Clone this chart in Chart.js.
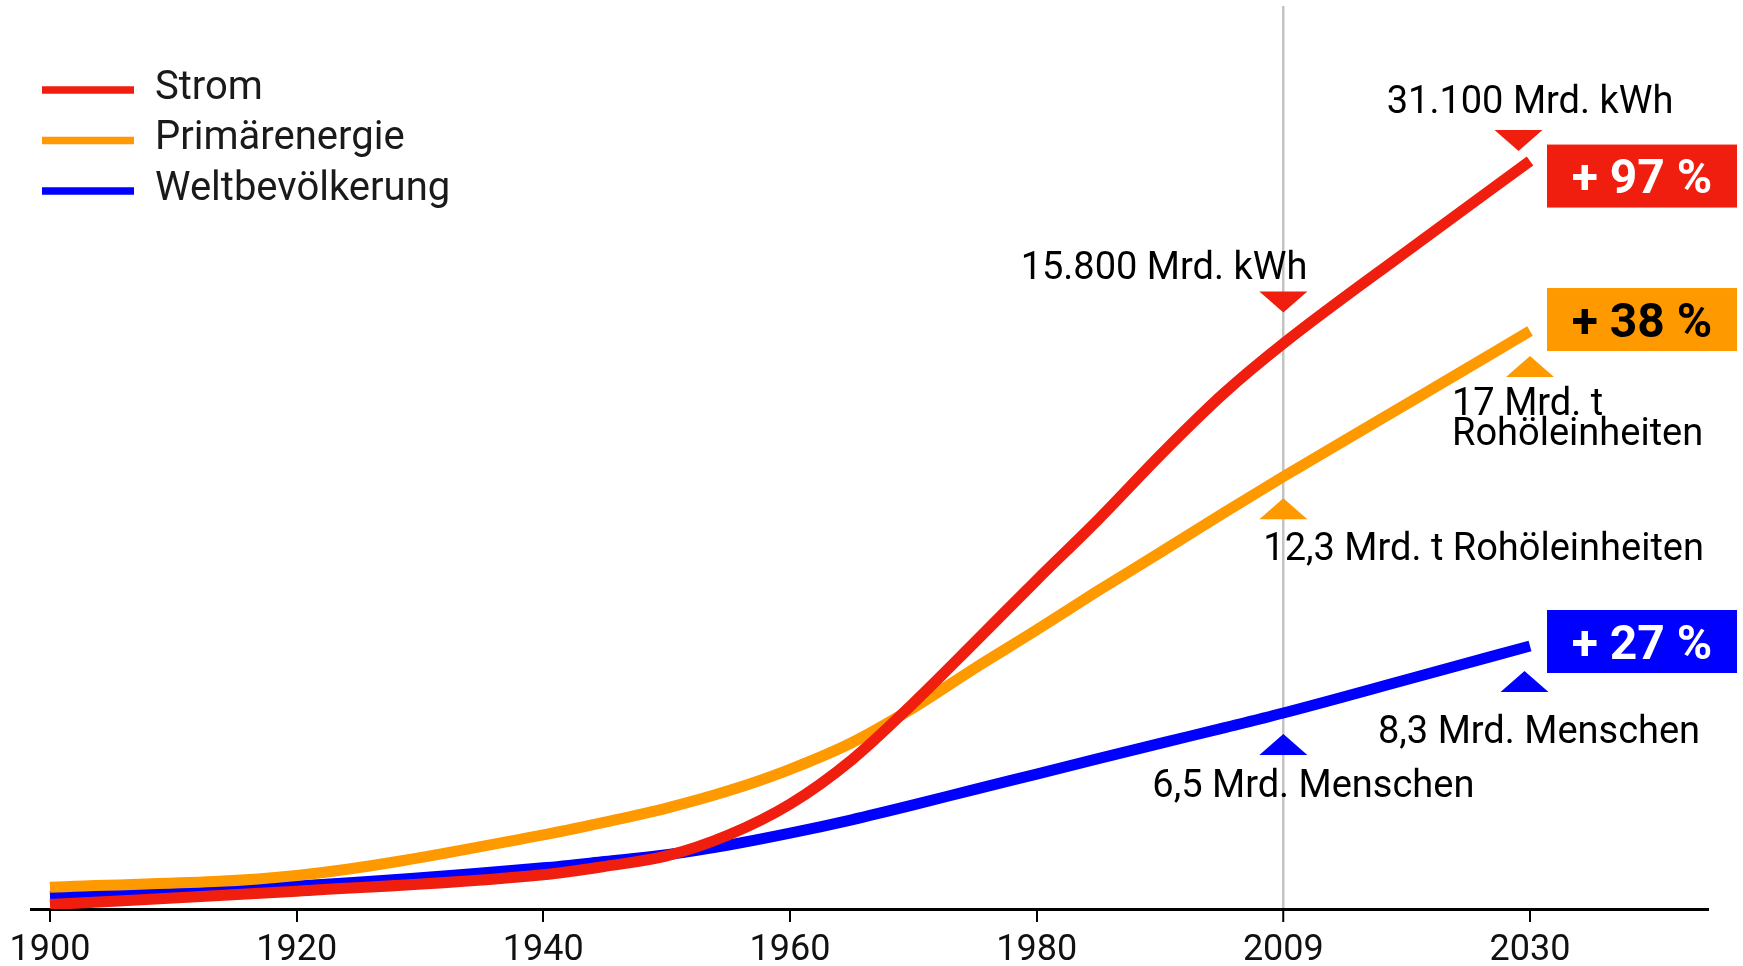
<!DOCTYPE html>
<html lang="de">
<head>
<meta charset="utf-8">
<title>Strom, Primärenergie und Weltbevölkerung 1900–2030</title>
<script src="https://cdn.jsdelivr.net/npm/chart.js@4.4.1/dist/chart.umd.min.js"></script>
<style>
  html, body { margin: 0; padding: 0; background: #fff; }
  #wrap { position: relative; width: 1743px; height: 966px; }
</style>
</head>
<body>
<div id="wrap"><canvas id="chart"></canvas></div>
<script>
// Axis tick years (evenly spaced on the axis, 2009 marks "today")
const tickYears = [1900, 1920, 1940, 1960, 1980, 2009, 2030];

// Sample years of the three series
const years = [1900, 1920, 1940, 1945, 1950, 1955, 1960, 1965, 1970, 1975, 1980, 1987, 1995, 2002, 2009, 2020, 2030];

// Stromverbrauch, Mrd. kWh
const strom = [1970, 2070, 2200, 2270, 2360, 2550, 2860, 3370, 4160, 5220, 6570, 8160, 10600, 13130, 15800, 22600, 31100];
// Primärenergieverbrauch, Mrd. t Rohöleinheiten
const primaerenergie = [4.94, 5.07, 5.55, 5.71, 5.89, 6.12, 6.42, 6.81, 7.36, 8.04, 8.75, 9.52, 10.45, 11.35, 12.3, 14.57, 17];
// Weltbevölkerung, Mrd. Menschen
const weltbevoelkerung = [1.58, 1.85, 2.34, 2.51, 2.69, 2.95, 3.27, 3.63, 4.03, 4.45, 4.86, 5.26, 5.71, 6.10, 6.5, 7.44, 8.3];

const seriesNames = ['Strom', 'Primärenergie', 'Weltbevölkerung'];
const seriesColors = ['#f01e0e', '#ff9900', '#0000ff'];

// Value callouts for 2009 and 2030, growth badges 2009 → 2030
const labels2009 = [['15.800 Mrd. kWh'], ['12,3 Mrd. t Rohöleinheiten'], ['6,5 Mrd. Menschen']];
const labels2030 = [['31.100 Mrd. kWh'], ['17 Mrd. t', 'Rohöleinheiten'], ['8,3 Mrd. Menschen']];
const growthLabels = ['+ 97 %', '+ 38 %', '+ 27 %'];

const FONT = 'Roboto, "Open Sans", "DejaVu Sans", sans-serif';

// position of a year on the evenly spaced tick axis
function yearToIndex(year) {
  for (let i = 0; i < tickYears.length - 1; i++) {
    if (year <= tickYears[i + 1]) {
      return i + (year - tickYears[i]) / (tickYears[i + 1] - tickYears[i]);
    }
  }
  return tickYears.length - 1;
}

const seriesValues = [strom, primaerenergie, weltbevoelkerung];
const axisIds = ['yStrom', 'yEnergie', 'yMenschen'];

const datasets = seriesValues.map((vals, s) => ({
  label: seriesNames[s],
  data: years.map((yr, i) => ({ x: yearToIndex(yr), y: vals[i] })),
  yAxisID: axisIds[s],
  borderColor: seriesColors[s],
  backgroundColor: seriesColors[s],
  borderWidth: 11,
  borderCapStyle: 'butt',
  borderJoinStyle: 'round',
  pointRadius: 0,
  pointHoverRadius: 0,
  cubicInterpolationMode: 'monotone',
  fill: false
}));

// callout layout: triangle pointer and value text around a data point
const callouts = [
  { s: 0, year: 2009, dir: 'down', tdx: 0,     tdy: -31,  lines: labels2009[0], align: 'right',  lx: 24,   ly: -64.5 },
  { s: 0, year: 2030, dir: 'down', tdx: -11.5, tdy: -10,  lines: labels2030[0], align: 'center', lx: 0,    ly: -48.5 },
  { s: 1, year: 2009, dir: 'up',   tdx: 0,     tdy: 21.5, lines: labels2009[1], align: 'left',   lx: -20,  ly: 83.5 },
  { s: 1, year: 2030, dir: 'up',   tdx: 0,     tdy: 25,   lines: labels2030[1], align: 'left',   lx: -78,  ly: 84 },
  { s: 2, year: 2009, dir: 'up',   tdx: 0,     tdy: 21,   lines: labels2009[2], align: 'left',   lx: -131, ly: 84 },
  { s: 2, year: 2030, dir: 'up',   tdx: -5.5,  tdy: 25,   lines: labels2030[2], align: 'left',   lx: -152, ly: 97 }
];
const badges = [
  { s: 0, dy: -16.5, text: '#ffffff' },
  { s: 1, dy: -43,   text: '#000000' },
  { s: 2, dy: -36,   text: '#ffffff' }
];

function pointPixel(chart, s, year) {
  const xs = chart.scales.x;
  const ys = chart.scales[axisIds[s]];
  const i = years.indexOf(year);
  return { x: xs.getPixelForValue(yearToIndex(year)), y: ys.getPixelForValue(seriesValues[s][i]) };
}

const overlayPlugin = {
  id: 'overlay',
  afterDatasetsDraw(chart) {
    const ctx = chart.ctx;
    ctx.save();

    // triangles and value texts
    callouts.forEach(c => {
      const p = pointPixel(chart, c.s, c.year);
      const cx = p.x + c.tdx, apex = p.y + c.tdy;
      const base = c.dir === 'down' ? apex - 21 : apex + 21;
      ctx.fillStyle = seriesColors[c.s];
      ctx.beginPath();
      ctx.moveTo(cx - 24, base);
      ctx.lineTo(cx + 24, base);
      ctx.lineTo(cx, apex);
      ctx.closePath();
      ctx.fill();

      ctx.fillStyle = '#000';
      ctx.font = '38px ' + FONT;
      ctx.textAlign = c.align;
      ctx.textBaseline = 'alphabetic';
      c.lines.forEach((t, k) => ctx.fillText(t, p.x + c.lx, p.y + c.ly + k * 30));
    });

    // growth badges at the right edge
    badges.forEach(b => {
      const p = pointPixel(chart, b.s, 2030);
      const left = p.x + 17, top = p.y + b.dy, w = 190, h = 63;
      ctx.fillStyle = seriesColors[b.s];
      ctx.fillRect(left, top, w, h);
      ctx.fillStyle = b.text;
      ctx.font = 'bold 48px ' + FONT;
      ctx.textAlign = 'center';
      ctx.textBaseline = 'alphabetic';
      const m = ctx.measureText(growthLabels[b.s]);
      const asc = m.actualBoundingBoxAscent, desc = m.actualBoundingBoxDescent;
      ctx.fillText(growthLabels[b.s], left + w / 2, top + h / 2 + (asc - desc) / 2);
    });

    // legend, top left
    chart.data.datasets.forEach((ds, i) => {
      const y = 90 + i * 50.5;
      ctx.strokeStyle = ds.borderColor;
      ctx.lineWidth = 7.5;
      ctx.lineCap = 'butt';
      ctx.beginPath();
      ctx.moveTo(42, y);
      ctx.lineTo(134, y);
      ctx.stroke();
      ctx.fillStyle = '#1a1a1a';
      ctx.font = '40px ' + FONT;
      ctx.textAlign = 'left';
      ctx.textBaseline = 'alphabetic';
      ctx.fillText(ds.label, 155, y + 8.5);
    });
    ctx.restore();
  }
};

function build() {
  new Chart(document.getElementById('chart'), {
    type: 'line',
    data: { datasets },
    plugins: [overlayPlugin],
    options: {
      responsive: true,
      maintainAspectRatio: false,
      animation: false,
      events: [],
      layout: { padding: { left: 31, right: 34, top: 6, bottom: 0 } },
      plugins: { legend: { display: false }, tooltip: { enabled: false } },
      scales: {
        x: {
          type: 'linear',
          bounds: 'data',
          min: -0.077,
          max: 6.7256,
          afterBuildTicks: scale => { scale.ticks = tickYears.map((_, i) => ({ value: i })); },
          afterFit: scale => { scale.height = 57; },
          ticks: {
            autoSkip: false,
            maxRotation: 0,
            padding: 9,
            color: '#111',
            font: { family: FONT, size: 36, lineHeight: 1.1 },
            callback: v => tickYears[v]
          },
          grid: {
            drawOnChartArea: true,
            color: c => (c.tick && c.tick.value === 5) ? '#c4c4c4' : 'rgba(0,0,0,0)',
            lineWidth: c => (c.tick && c.tick.value === 5) ? 2.5 : 0,
            tickColor: '#000',
            tickLength: 13,
            tickWidth: 2
          },
          border: { display: true, color: '#000', width: 3 }
        },
        yStrom:    { type: 'logarithmic', display: false, bounds: 'data', min: 1938, max: 55290 },
        yEnergie:  { type: 'logarithmic', display: false, bounds: 'data', min: 4.707, max: 35.0 },
        yMenschen: { type: 'linear',      display: false, bounds: 'data', min: 1.234, max: 25.495 }
      }
    }
  });
}

if (document.fonts && document.fonts.load) {
  Promise.all([
    document.fonts.load('38px Roboto'),
    document.fonts.load('bold 48px Roboto')
  ]).then(build, build);
} else {
  build();
}
</script>
</body>
</html>
